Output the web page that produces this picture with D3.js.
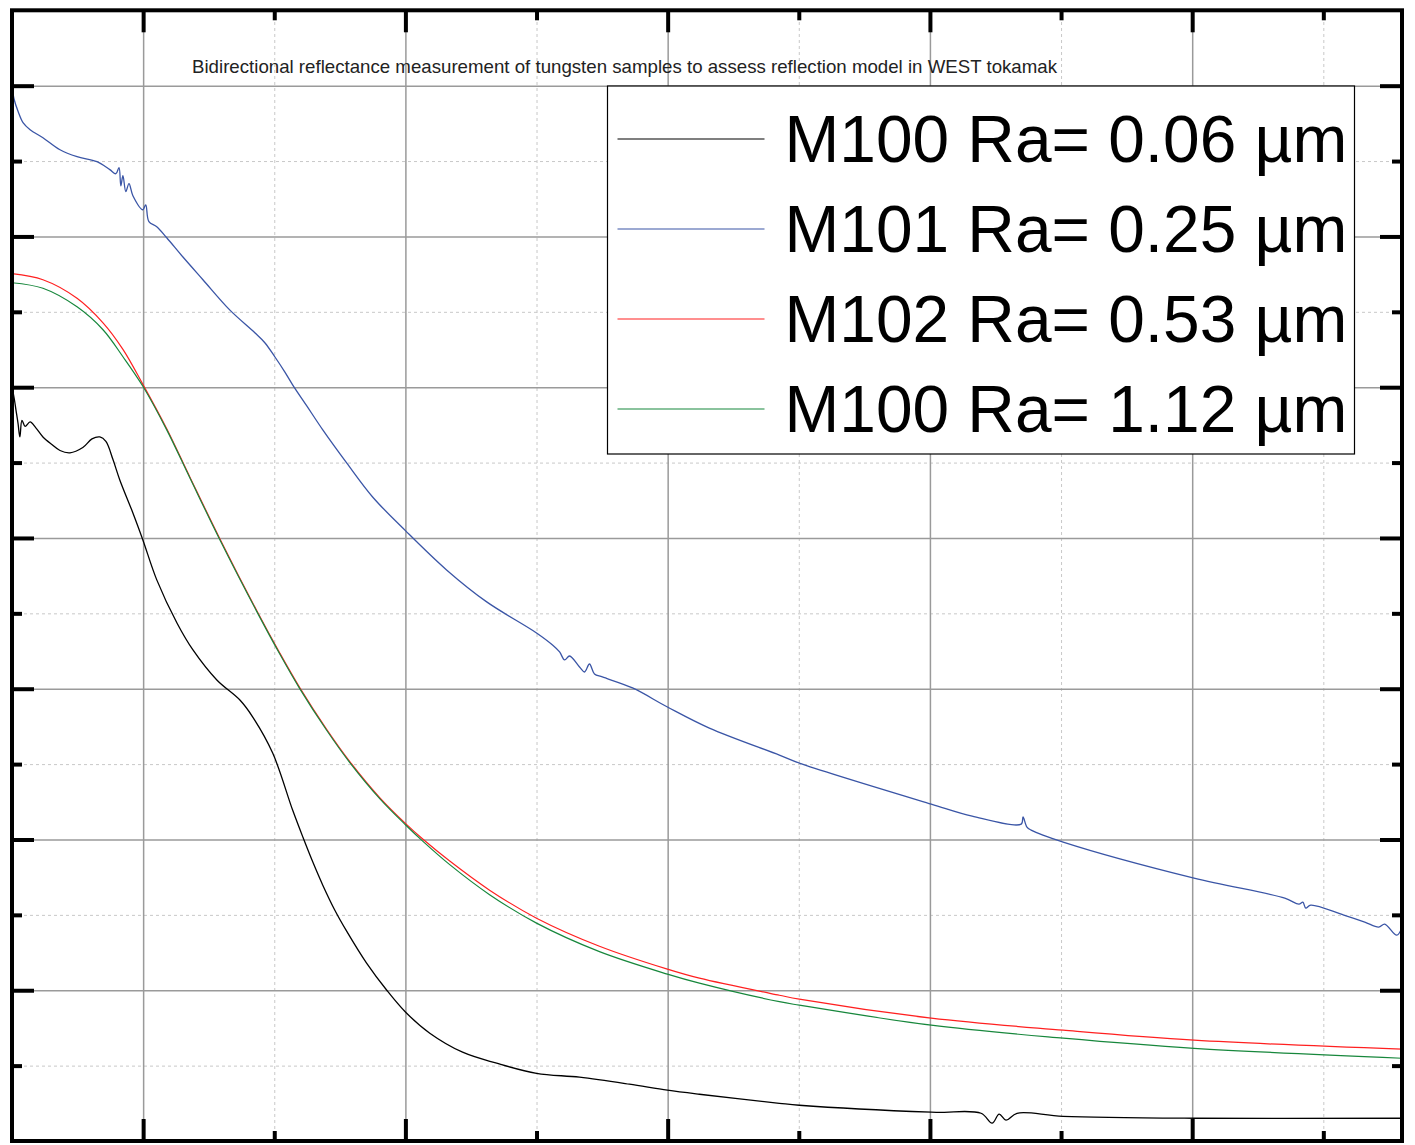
<!DOCTYPE html>
<html>
<head>
<meta charset="utf-8">
<script src="https://cdn.jsdelivr.net/npm/d3@7"></script>
<style>
  body { margin: 0; background: #fff; }
  svg { display: block; font-family: "Liberation Sans", Arial, sans-serif; }
</style>
</head>
<body>
<svg id="chart" width="1415" height="1145"></svg>
<script>
const chartTitle = "Bidirectional reflectance measurement of tungsten samples to assess reflection model in WEST tokamak";

const seriesNames = ["M100 Ra= 0.06 \u00b5m", "M101 Ra= 0.25 \u00b5m", "M102 Ra= 0.53 \u00b5m", "M100 Ra= 1.12 \u00b5m"];
const seriesColors = ["#000000", "#3a55a6", "#ff2020", "#17873c"];

// M100 Ra=0.06
const m100Angle = [5.00, 5.08, 5.15, 5.23, 5.30, 5.38, 5.50, 5.69, 5.91, 6.18, 6.52, 6.83, 7.21, 7.70, 8.05, 8.35, 8.58, 8.85, 9.11, 9.61, 9.99, 10.52, 11.29, 11.90, 12.81, 13.69, 14.18, 14.94, 15.70, 16.09, 16.47, 16.85, 17.31, 17.76, 18.52, 19.29, 20.01, 20.93, 22.18, 23.48, 25.00, 26.64, 28.54, 29.99, 31.21, 34.26, 35.02, 40.05, 41.95, 42.37, 42.64, 42.90, 43.32, 45.08, 50.07, 57.99];
const m100Value = [0.500, 0.493, 0.485, 0.476, 0.467, 0.478, 0.474, 0.477, 0.473, 0.467, 0.462, 0.458, 0.4565, 0.460, 0.4657, 0.467, 0.464, 0.452, 0.4385, 0.4166, 0.3987, 0.3722, 0.3436, 0.3257, 0.3058, 0.2925, 0.2812, 0.2573, 0.2195, 0.2016, 0.1850, 0.1697, 0.1531, 0.1392, 0.1180, 0.1000, 0.0854, 0.0715, 0.0589, 0.0516, 0.0449, 0.0423, 0.0377, 0.0337, 0.0310, 0.0250, 0.0237, 0.0191, 0.0184, 0.0118, 0.0178, 0.0138, 0.0184, 0.0164, 0.0151, 0.0151];

// M101 Ra=0.25
const m101Angle = [5.00, 5.08, 5.23, 5.42, 5.69, 6.18, 6.83, 7.48, 8.24, 8.73, 8.96, 9.08, 9.15, 9.23, 9.34, 9.46, 9.61, 9.99, 10.10, 10.22, 10.52, 10.90, 11.51, 12.28, 13.30, 14.26, 14.64, 15.02, 15.40, 15.70, 16.24, 16.85, 17.76, 18.75, 20.01, 21.57, 23.10, 25.00, 25.61, 25.88, 26.07, 26.26, 26.64, 26.83, 27.02, 27.21, 27.51, 28.66, 29.99, 31.59, 34.26, 35.02, 40.05, 41.61, 43.48, 43.55, 43.70, 43.86, 45.08, 50.07, 53.53, 54.07, 54.22, 54.33, 54.52, 55.78, 56.58, 57.11, 57.34, 57.80, 57.99];
const m101Value = [0.700, 0.691, 0.683, 0.6755, 0.6708, 0.6655, 0.6575, 0.6529, 0.6496, 0.6443, 0.6416, 0.6456, 0.6336, 0.6403, 0.6297, 0.6350, 0.6270, 0.6177, 0.6210, 0.6098, 0.6064, 0.5991, 0.5865, 0.5713, 0.5513, 0.5361, 0.5295, 0.5202, 0.5102, 0.5016, 0.4876, 0.4717, 0.4498, 0.4272, 0.4047, 0.3788, 0.3576, 0.3370, 0.3290, 0.3244, 0.3191, 0.3217, 0.3144, 0.3111, 0.3164, 0.3098, 0.3078, 0.3005, 0.2879, 0.2739, 0.2560, 0.2507, 0.2235, 0.2155, 0.2102, 0.2149, 0.2082, 0.2062, 0.1983, 0.1744, 0.1611, 0.1571, 0.1584, 0.1545, 0.1565, 0.1498, 0.1452, 0.1419, 0.1439, 0.1365, 0.1412];

// M102 Ra=0.53
const m102Angle = [5.00, 6.18, 7.48, 8.47, 9.23, 9.99, 10.90, 11.78, 12.92, 14.33, 15.21, 15.97, 16.99, 17.88, 19.02, 20.01, 20.66, 21.69, 23.21, 25.00, 27.40, 29.99, 31.21, 34.26, 35.02, 40.05, 45.08, 50.07, 57.99];
const m102Value = [0.5753, 0.5713, 0.5590, 0.5427, 0.5251, 0.5019, 0.4724, 0.4405, 0.3997, 0.3519, 0.3237, 0.3008, 0.2733, 0.2517, 0.2278, 0.2105, 0.2003, 0.1857, 0.1664, 0.1478, 0.1292, 0.1140, 0.1080, 0.0967, 0.0941, 0.0815, 0.0735, 0.0669, 0.0609];

// M100 Ra=1.12
const m112Angle = [5.00, 6.18, 7.48, 8.47, 9.23, 9.99, 10.90, 11.78, 12.92, 14.33, 15.21, 15.97, 16.99, 17.88, 19.02, 20.01, 20.66, 21.69, 23.21, 25.00, 27.40, 29.99, 31.21, 34.26, 35.02, 40.05, 45.08, 50.07, 57.99];
const m112Value = [0.5693, 0.5656, 0.5533, 0.5381, 0.5202, 0.5006, 0.4717, 0.4399, 0.3990, 0.3513, 0.3230, 0.3001, 0.2726, 0.2510, 0.2271, 0.2096, 0.1989, 0.1833, 0.1634, 0.1445, 0.1256, 0.1107, 0.1047, 0.0924, 0.0901, 0.0768, 0.0682, 0.0615, 0.0549];

const majorX = [10, 20, 30, 40, 50];
const minorX = [15, 25, 35, 45, 55];
const majorY = [0.1, 0.2, 0.3, 0.4, 0.5, 0.6, 0.7];
const minorY = [0.05, 0.15, 0.25, 0.35, 0.45, 0.55, 0.65];

const svg = d3.select("#chart");
const width = +svg.attr("width");
const height = +svg.attr("height");
const margin = { top: 10.3, right: 13, bottom: 4, left: 12 };
const innerWidth = width - margin.left - margin.right;
const innerHeight = height - margin.top - margin.bottom;

svg.append("rect").attr("width", width).attr("height", height).attr("fill", "#fff");

const g = svg.append("g")
  .attr("transform", `translate(${margin.left},${margin.top})`);

const x = d3.scaleLinear().domain([5, 58]).range([0, innerWidth]);
const y = d3.scaleLinear().domain([0, 0.75]).range([innerHeight, 0]);

// grid
g.append("g")
  .attr("class", "grid-minor")
  .attr("transform", `translate(0,${innerHeight})`)
  .call(d3.axisBottom(x).tickValues(minorX).tickSize(-innerHeight).tickFormat(""));
g.append("g")
  .attr("class", "grid-minor")
  .call(d3.axisLeft(y).tickValues(minorY).tickSize(-innerWidth).tickFormat(""));
g.append("g")
  .attr("class", "grid-major")
  .attr("transform", `translate(0,${innerHeight})`)
  .call(d3.axisBottom(x).tickValues(majorX).tickSize(-innerHeight).tickFormat(""));
g.append("g")
  .attr("class", "grid-major")
  .call(d3.axisLeft(y).tickValues(majorY).tickSize(-innerWidth).tickFormat(""));

g.selectAll(".grid-minor .domain, .grid-major .domain").remove();
g.selectAll(".grid-minor line")
  .attr("stroke", "#c8c8c8")
  .attr("stroke-width", 1)
  .attr("stroke-dasharray", "3,3");
g.selectAll(".grid-major line")
  .attr("stroke", "#9a9a9a")
  .attr("stroke-width", 1.5);

// curves
const line = d3.line()
  .x(d => x(d[0]))
  .y(d => y(d[1]))
  .curve(d3.curveCatmullRom.alpha(0.5));

const seriesData = [
  d3.zip(m100Angle, m100Value),
  d3.zip(m101Angle, m101Value),
  d3.zip(m102Angle, m102Value),
  d3.zip(m112Angle, m112Value)
];

g.selectAll(".curve")
  .data(seriesData)
  .enter()
  .append("path")
  .attr("class", "curve")
  .attr("d", line)
  .attr("fill", "none")
  .attr("stroke", (d, i) => seriesColors[i])
  .attr("stroke-width", (d, i) => i < 2 ? 1.3 : 1.2);

// title
svg.append("text")
  .attr("x", 192)
  .attr("y", 73)
  .attr("font-size", 18.5)
  .attr("textLength", 865)
  .attr("lengthAdjust", "spacingAndGlyphs")
  .attr("fill", "#222")
  .text(chartTitle);

// legend
const legendG = svg.append("g").attr("transform", "translate(607.5,86)");
legendG.append("rect")
  .attr("width", 747)
  .attr("height", 368)
  .attr("fill", "#fff")
  .attr("stroke", "#000")
  .attr("stroke-width", 1.2);

const legendItems = legendG.selectAll(".legend-item")
  .data(seriesNames)
  .enter()
  .append("g")
  .attr("class", "legend-item")
  .attr("transform", (d, i) => `translate(0,${53 + i * 90})`);

legendItems.append("line")
  .attr("x1", 10)
  .attr("x2", 157)
  .attr("stroke", (d, i) => seriesColors[i])
  .attr("stroke-width", 1.2);

legendItems.append("text")
  .attr("x", 177)
  .attr("y", 23)
  .attr("font-size", 65.8)
  .attr("fill", "#000")
  .text(d => d);

// frame and inward ticks
const frameG = svg.append("g").attr("transform", `translate(${margin.left},${margin.top})`);

function tickAxis(axisFn, scale, values, size, transform) {
  const a = frameG.append("g")
    .attr("class", "frame-ticks")
    .attr("transform", transform)
    .call(axisFn(scale).tickValues(values).tickSize(-size).tickFormat(""));
  a.select(".domain").remove();
  a.selectAll("line").attr("stroke", "#000").attr("stroke-width", 4);
}

tickAxis(d3.axisBottom, x, majorX, 22, `translate(0,${innerHeight})`);
tickAxis(d3.axisBottom, x, minorX, 10, `translate(0,${innerHeight})`);
tickAxis(d3.axisTop, x, majorX, 22, "translate(0,0)");
tickAxis(d3.axisTop, x, minorX, 10, "translate(0,0)");
tickAxis(d3.axisLeft, y, majorY, 22, "translate(0,0)");
tickAxis(d3.axisLeft, y, minorY, 10, "translate(0,0)");
tickAxis(d3.axisRight, y, majorY, 22, `translate(${innerWidth},0)`);
tickAxis(d3.axisRight, y, minorY, 10, `translate(${innerWidth},0)`);

frameG.append("rect")
  .attr("width", innerWidth)
  .attr("height", innerHeight)
  .attr("fill", "none")
  .attr("stroke", "#000")
  .attr("stroke-width", 4);
</script>
</body>
</html>
